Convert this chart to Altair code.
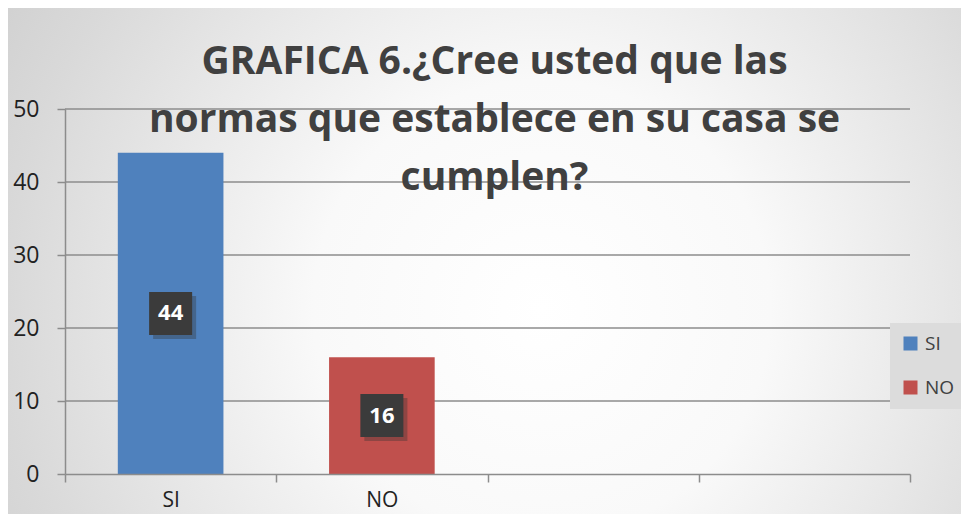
import altair as alt
import pandas as pd

# ---- data ----
categories = ["SI", "NO"]
values = [44, 16]
x_domain = ["SI", "NO", " ", "  "]
bar_colors = ["#4F81BD", "#C0504D"]
grid_values = [10, 20, 30, 40, 50]
y_ticks = [0, 10, 20, 30, 40, 50]
title_lines = ["GRAFICA 6.¿Cree usted que las",
               "normas que establece en su casa se",
               "cumplen?"]

df = pd.DataFrame({"cat": categories, "val": values})
grid_df = pd.DataFrame({"g": grid_values})

W, H = 845, 365
PL, PT, PR, PB = 57, 101, 51, 40
FONT = "Open Sans"

xscale = alt.Scale(domain=x_domain, paddingInner=0, paddingOuter=0)
yscale = alt.Scale(domain=[0, 50], nice=False)

y_axis = alt.Axis(values=y_ticks, tickSize=8, labelPadding=18, labelFontSize=23,
                  labelFont=FONT, labelColor="#222222", domainColor="#8c8c8c",
                  tickColor="#8c8c8c", domainWidth=1.5, tickWidth=1.5,
                  grid=False, zindex=1, title=None)
x_axis = alt.Axis(labelAngle=0, tickBand="extent", tickSize=8, labelPadding=7,
                  labelFontSize=21, labelFont=FONT, labelColor="#222222",
                  domainColor="#8c8c8c", tickColor="#8c8c8c", domainWidth=1.5,
                  tickWidth=1.5, grid=False, zindex=1, title=None)

bg = alt.Chart(pd.DataFrame({"a": [0]})).mark_rect(
    color=alt.RadialGradient(
        gradient="radial",
        stops=[alt.GradientStop(offset=0, color="#ffffff"),
               alt.GradientStop(offset=0.3, color="#f9f9f9"),
               alt.GradientStop(offset=0.7, color="#d9d9d9"),
               alt.GradientStop(offset=1, color="#c4c4c4")],
        x1=0.56, y1=0.55, x2=0.56, y2=0.55, r1=0, r2=0.8),
).encode(x=alt.value(-PL), x2=alt.value(W + PR), y=alt.value(-PT), y2=alt.value(H + PB))

grid = alt.Chart(grid_df).mark_rule(color="#8c8c8c", strokeWidth=1.5).encode(
    y=alt.Y("g:Q", scale=yscale, axis=y_axis, title=None)
)

bars = alt.Chart(df).mark_bar(width=alt.RelativeBandSize(0.5)).encode(
    x=alt.X("cat:N", scale=xscale, axis=x_axis, title=None),
    y=alt.Y("val:Q", scale=yscale, axis=y_axis, title=None),
    color=alt.Color("cat:N", scale=alt.Scale(domain=categories, range=bar_colors),
                    legend=alt.Legend(orient="none", legendX=825, legendY=214,
                                      title=None, symbolType="square",
                                      symbolSize=196, symbolStrokeWidth=0,
                                      labelFontSize=19, labelFont=FONT,
                                      labelColor="#404040", rowPadding=24,
                                      fillColor="#dcdcdc", padding=11,
                                      labelOffset=5)),
)

base_lbl = alt.Chart(df).transform_calculate(half="datum.val / 2")

shadow = base_lbl.mark_square(size=1850, color="#303030", opacity=0.35,
                              xOffset=4, yOffset=4).encode(
    x=alt.X("cat:N", scale=xscale), y=alt.Y("half:Q", scale=yscale))

boxes = base_lbl.mark_square(size=1850, color="#3b3b3b", opacity=1).encode(
    x=alt.X("cat:N", scale=xscale), y=alt.Y("half:Q", scale=yscale))

texts = base_lbl.mark_text(color="white", fontSize=22, fontWeight="bold",
                           font=FONT, baseline="middle").encode(
    x=alt.X("cat:N", scale=xscale), y=alt.Y("half:Q", scale=yscale),
    text="val:Q")

chart = alt.layer(bg, grid, bars, shadow, boxes, texts).properties(
    width=W, height=H,
    autosize=alt.AutoSizeParams(type="none"),
    padding={"left": PL, "top": PT, "right": PR, "bottom": PB},
    title=alt.TitleParams(text=title_lines, font=FONT, fontSize=39,
                          fontWeight="bold", color="#404040", anchor="middle",
                          frame="group", offset=-221, lineHeight=58, dx=7,
                          baseline="alphabetic"),
).configure_view(stroke=None).configure(background="#d0d0d0")

chart.save("out.html", embed_options={"renderer": "svg", "actions": False})
